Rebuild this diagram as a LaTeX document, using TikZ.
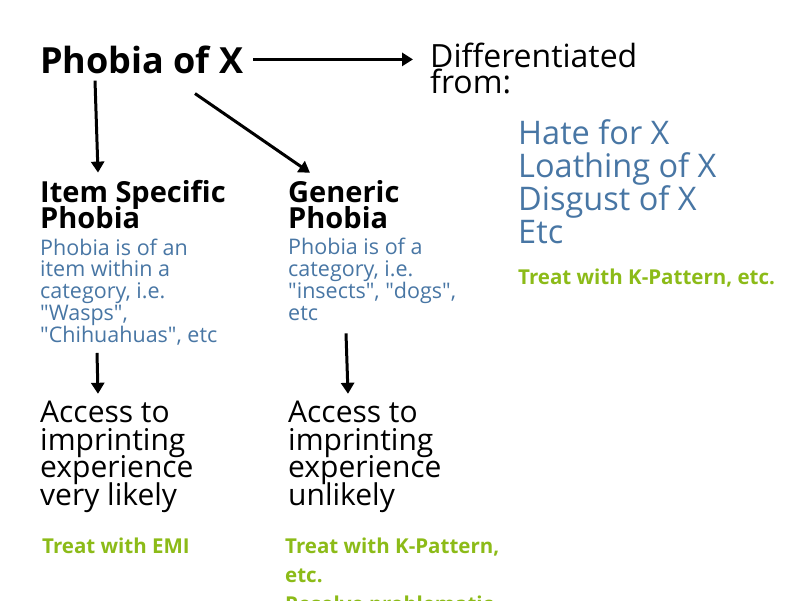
\documentclass[tikz,border=0pt]{standalone}
\usepackage{fontspec}
\setmainfont{Open Sans}
\usetikzlibrary{arrows.meta,positioning}

\definecolor{myblue}{RGB}{72,118,164}
\definecolor{mygreen}{RGB}{140,187,24}
\newcommand{\mytight}{\lineskiplimit=-50pt\relax}

\begin{document}
\begin{tikzpicture}[
  x=1pt, y=-1pt,
  every node/.style={inner sep=0pt, anchor=base west, align=left},
  mytitle/.style={font=\fontsize{36}{36}\selectfont\bfseries},
  myhead/.style={font=\fontsize{29}{26}\selectfont\bfseries\mytight},
  mybig/.style={font=\fontsize{32}{26}\selectfont\mytight},
  mynote/.style={font=\fontsize{21.5}{21.7}\selectfont\mytight, text=myblue},
  mylist/.style={font=\fontsize{32.5}{33}\selectfont\mytight, text=myblue},
  myaccess/.style={font=\fontsize{30}{27.5}\selectfont\mytight},
  mytreat/.style={font=\fontsize{20.5}{29}\selectfont\bfseries\mytight, text=mygreen},
  myarrow/.style={line width=3pt, -{Triangle[length=11pt,width=13pt]}}
]

\useasboundingbox (0,0) rectangle (800,600);
\clip (0,0) rectangle (800,600);

\node [mytitle] (title) at (40,73) {Phobia of X};
\node [mybig] (diff) at (430,93) {Differentiated\\from:};

\node [myhead] (item) at (40,228) {Item Specific\\Phobia};
\node [myhead] (generic) at (288,228) {Generic\\Phobia};

\node [mynote] (itemnote) at (40,342) {Phobia is of an\\item within a\\category, i.e.\\\textquotedbl Wasps\textquotedbl,\\\textquotedbl Chihuahuas\textquotedbl, etc};
\node [mynote] (genericnote) at (288,320) {Phobia is of a\\category, i.e.\\\textquotedbl insects\textquotedbl, \textquotedbl dogs\textquotedbl,\\etc};

\node [myaccess] (itemaccess) at (40,505) {Access to\\imprinting\\experience\\very likely};
\node [myaccess] (genericaccess) at (288,505) {Access to\\imprinting\\experience\\unlikely};

\node [mytreat] (itemtreat) at (42,553) {Treat with EMI};
\node [mytreat] (generictreat) at (285,611) {Treat with K-Pattern,\\etc.\\Resolve problematic};

\node [mylist] (others) at (518,243) {Hate for X\\Loathing of X\\Disgust of X\\Etc};
\node [mytreat] (otherstreat) at (518,284) {Treat with K-Pattern, etc.};

\draw[myarrow] ([xshift=10pt]title.east) -- ([xshift=-17pt]diff.west |- title.east);
\draw[myarrow] ([xshift=55pt,yshift=-7pt]title.south west) -- ([xshift=58pt,yshift=7pt]item.north west);
\draw[myarrow] ([xshift=155pt,yshift=-20pt]title.south west) -- ([xshift=22pt,yshift=7pt]generic.north west);
\draw[myarrow] ([xshift=57pt,yshift=-8pt]itemnote.south west) -- ([xshift=58pt,yshift=7pt]itemaccess.north west);
\draw[myarrow] ([xshift=58pt,yshift=-13pt]genericnote.south west) -- ([xshift=60pt,yshift=7pt]genericaccess.north west);
\end{tikzpicture}
\end{document}
